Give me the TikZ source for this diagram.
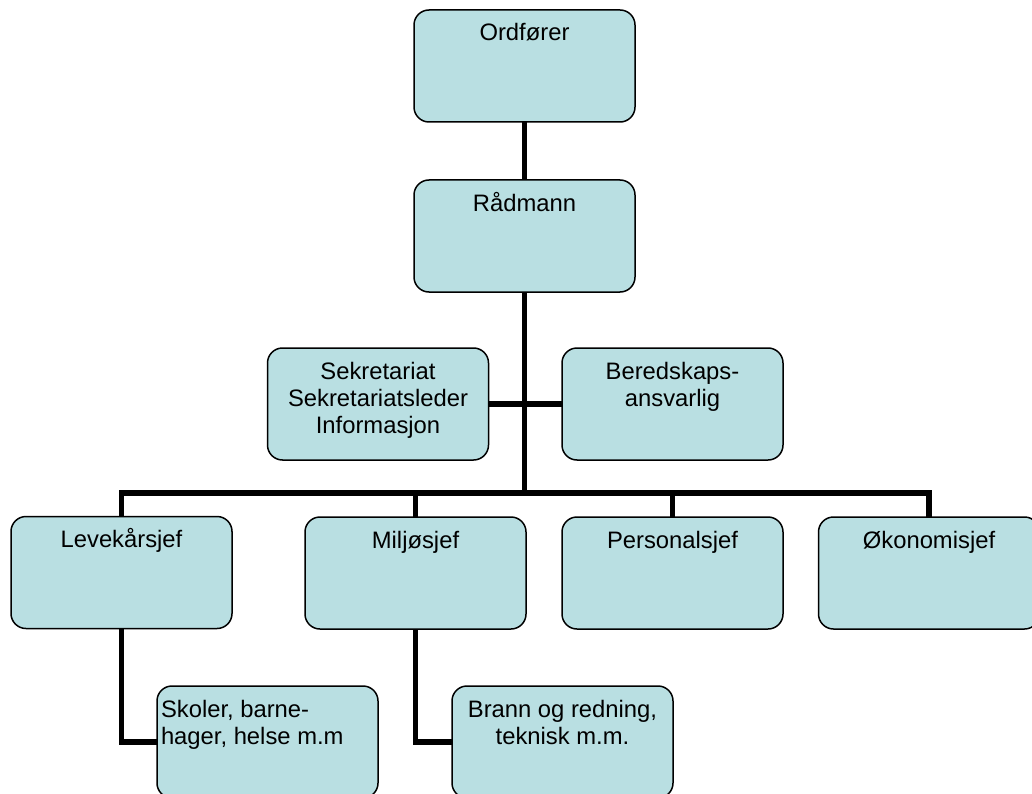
\documentclass[tikz,border=0pt]{standalone}
\usepackage{fontspec}
\setmainfont{Liberation Sans}
\usetikzlibrary{backgrounds}
\definecolor{boxfill}{RGB}{185,223,226}
\newcommand\boxlines[2][\centering]{\parbox[c][112pt][t]{221pt}{#1\rule{0pt}{31pt}#2}}
\tikzset{
  orgbox/.style={draw=black, line width=1.5pt, fill=boxfill, rounded corners=15pt,
    inner sep=0pt, outer sep=0pt, font=\fontsize{23.8}{27}\selectfont},
  conn/.style={line width=5.3pt, draw=black}
}
\begin{document}
\begin{tikzpicture}[x=1pt,y=-1pt]
\useasboundingbox (0,0) rectangle (1032,794);
\node[orgbox] (ordf) at (524.5,66) {\boxlines{Ordfører}};
\node[orgbox] (rad) at (524.5,236) {\boxlines{Rådmann}};
\node[orgbox] (sek) at (378,404) {\boxlines{Sekretariat\\Sekretariatsleder\\Informasjon}};
\node[orgbox] (ber) at (672.5,404) {\boxlines{Beredskaps-\\ansvarlig}};
\node[orgbox] (lev) at (121.5,572.5) {\boxlines{Levekårsjef}};
\node[orgbox] (mil) at (415.5,573) {\boxlines{Miljøsjef}};
\node[orgbox] (per) at (672.5,573) {\boxlines{Personalsjef}};
\node[orgbox] (oko) at (929,573) {\boxlines{Økonomisjef}};
\node[orgbox] (sko) at (267.5,742) {\boxlines[\leftskip=4pt\rightskip=0pt plus 1fil]{Skoler, barne-\\hager, helse m.m}};
\node[orgbox] (bra) at (562.5,742) {\boxlines{Brann og redning,\\teknisk m.m.}};
\coordinate (bus) at (524.5,493);
\begin{scope}[on background layer]
\draw[conn] (ordf.south) -- (rad.north);
\draw[conn] (rad.south) -- (bus);
\draw[conn] (sek.east) -- (ber.west);
\draw[conn] (lev.north) -- (lev.north |- bus) -- (oko.north |- bus) -- (oko.north);
\draw[conn] (mil.north) -- (mil.north |- bus);
\draw[conn] (per.north) -- (per.north |- bus);
\draw[conn] (lev.south) |- (sko.west);
\draw[conn] (mil.south) |- (bra.west);
\end{scope}
\end{tikzpicture}
\end{document}
